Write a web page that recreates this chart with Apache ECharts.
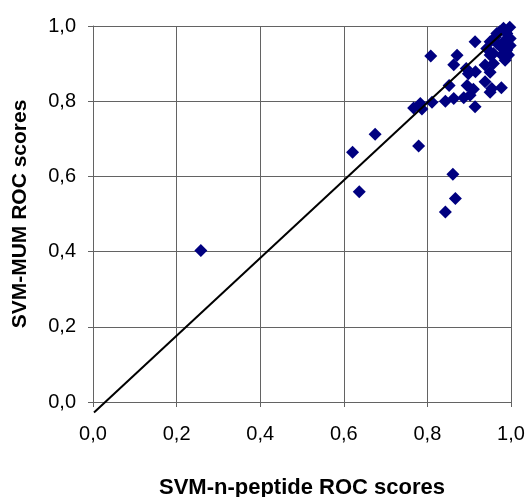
<!DOCTYPE html>
<html>
<head>
<meta charset="utf-8">
<script src="https://cdn.jsdelivr.net/npm/echarts@6/dist/echarts.min.js"></script>
<style>
  html, body { margin: 0; padding: 0; background: #ffffff; }
  #chart { width: 528px; height: 497px; }
</style>
</head>
<body>
<div id="chart"></div>
<script>
// SVM-n-peptide (x) vs SVM-MUM (y) ROC scores, one pair per family
const nPeptideScores = [
  0.258, 0.621, 0.637, 0.675, 0.779, 0.843, 0.867, 0.861, 0.767, 0.787,
  0.783, 0.811, 0.808, 0.843, 0.863, 0.887, 0.902, 0.914, 0.852, 0.895,
  0.938, 0.910, 0.950, 0.977, 0.954, 0.863, 0.871, 0.893, 0.915, 0.938,
  0.958, 0.986, 0.914, 0.950, 0.942, 0.958, 0.978, 0.994, 0.990, 0.950,
  0.966, 0.966, 0.982, 0.997, 0.998, 0.998, 0.973, 0.950, 0.898, 0.984,
  0.975, 0.962, 0.990
];
const mumScores = [
  0.403, 0.664, 0.559, 0.712, 0.681, 0.505, 0.541, 0.606, 0.782, 0.779,
  0.794, 0.797, 0.920, 0.800, 0.807, 0.809, 0.816, 0.785, 0.842, 0.842,
  0.852, 0.832, 0.824, 0.836, 0.834, 0.897, 0.922, 0.887, 0.878, 0.896,
  0.900, 0.909, 0.958, 0.923, 0.940, 0.927, 0.923, 0.923, 0.936, 0.958,
  0.954, 0.980, 0.994, 0.997, 0.967, 0.948, 0.985, 0.877, 0.873, 0.960,
  0.945, 0.970, 0.980
];

// Linear trend line end points
const trendX = [0.0024, 0.978];
const trendY = [-0.028, 0.980];

const axisTicks = [0, 0.2, 0.4, 0.6, 0.8, 1.0];
const xTitle = 'SVM-n-peptide ROC scores';
const yTitle = 'SVM-MUM ROC scores';

const fmt = v => v.toFixed(1).replace('.', ',');

const points = nPeptideScores.map((x, i) => [x, mumScores[i]]);
const trend = trendX.map((x, i) => [x, trendY[i]]);

const gridColor = '#636363';
const baseFont = 'Liberation Sans, Arial, sans-serif';

function valueAxis(extra) {
  return Object.assign({
    type: 'value',
    min: axisTicks[0],
    max: axisTicks[axisTicks.length - 1],
    interval: 0.2,
    nameLocation: 'middle',
    axisLine: { show: true, lineStyle: { color: gridColor, width: 1 } },
    axisTick: { show: true, length: 5, lineStyle: { color: gridColor, width: 1 } },
    splitLine: { show: true, lineStyle: { color: gridColor, width: 1 } }
  }, extra);
}

const chart = echarts.init(document.getElementById('chart'), null, { renderer: 'canvas' });
chart.setOption({
  backgroundColor: '#ffffff',
  animation: false,
  grid: { left: 93, right: 17, top: 26, bottom: 95, containLabel: false, outerBoundsMode: 'none' },
  xAxis: valueAxis({
    name: xTitle,
    nameGap: 75,
    nameTextStyle: { fontFamily: baseFont, fontWeight: 'bold', fontSize: 22, color: '#000' },
    axisLabel: { formatter: fmt, fontFamily: baseFont, fontSize: 20, color: '#000', margin: 22 }
  }),
  yAxis: valueAxis({
    name: yTitle,
    nameGap: 62,
    nameTextStyle: { fontFamily: baseFont, fontWeight: 'bold', fontSize: 21, color: '#000' },
    axisLabel: { formatter: fmt, fontFamily: baseFont, fontSize: 20, color: '#000', margin: 17 }
  }),
  series: [
    {
      type: 'scatter',
      data: points,
      symbol: 'diamond',
      symbolSize: 13,
      clip: false,
      itemStyle: { color: '#000080', opacity: 1 },
      z: 2
    },
    {
      type: 'line',
      data: trend,
      showSymbol: false,
      clip: false,
      lineStyle: { color: '#000000', width: 2 },
      z: 3
    }
  ]
});
</script>
</body>
</html>
